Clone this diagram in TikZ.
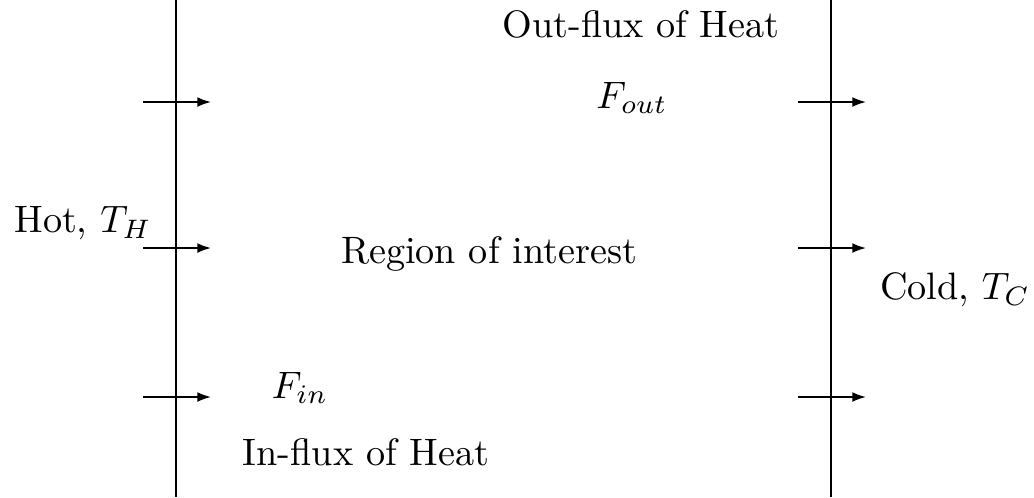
\documentclass[tikz,border=0pt]{standalone}
\usetikzlibrary{arrows.meta}
\begin{document}
\begin{tikzpicture}[x=0.2618pt,y=-0.2618pt,
  wall/.style={line width=0.45pt},
  flux/.style={line width=0.45pt,-{Latex[length=3.6pt,width=2.6pt]}},
  lbl/.style={inner sep=0pt,font=\fontsize{10}{12}\selectfont}]
\useasboundingbox (0,0) rectangle (1034,497);
% walls
\coordinate (lt) at (176,0); \coordinate (lb) at (176,497);
\coordinate (rt) at (831,0); \coordinate (rb) at (831,497);
\draw[wall] (lt) -- (lb);
\draw[wall] (rt) -- (rb);
% flux arrows
\foreach \y [count=\i] in {102,248,397}{
  \coordinate (ls\i) at (143,\y); \coordinate (le\i) at (211,\y);
  \coordinate (rs\i) at (798,\y); \coordinate (re\i) at (866,\y);
  \draw[flux] (ls\i) -- (le\i);
  \draw[flux] (rs\i) -- (re\i);
}
% labels
\node[lbl] (outflux) at (641,24) {Out-flux of Heat};
\node[lbl] (fout) at (632,98) {$F_{out}$};
\node[lbl] (hot) at (83,223) {Hot, $T_H$};
\node[lbl] (region) at (489,254) {Region of interest};
\node[lbl] (cold) at (955,290) {Cold, $T_C$};
\node[lbl] (fin) at (300,388) {$F_{in}$};
\node[lbl] (influx) at (366,452) {In-flux of Heat};
\end{tikzpicture}
\end{document}
